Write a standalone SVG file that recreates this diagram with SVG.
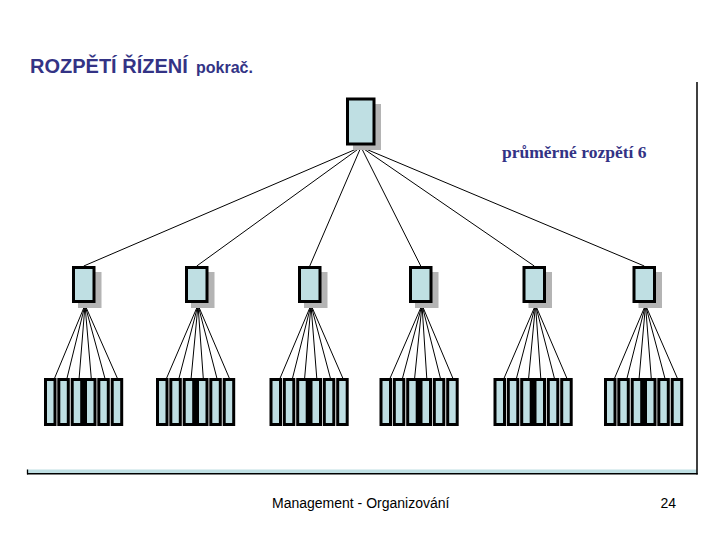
<svg xmlns="http://www.w3.org/2000/svg" width="720" height="540" viewBox="0 0 720 540">
<defs>
<style>
.title{font-family:"Liberation Sans",Arial,sans-serif;font-weight:bold;fill:#333385}
.note{font-family:"Liberation Serif","Times New Roman",serif;font-weight:bold;fill:#333385;font-size:17.5px}
.foot{font-family:"Liberation Sans",Arial,sans-serif;font-size:14px;fill:#000}
.box{fill:#BFDFE3;stroke:#000;stroke-width:3}
.shadow{fill:#B4B4B4}
.leaf{fill:#BFDFE3;stroke:#000;stroke-width:3}
.conn line{stroke:#000;stroke-width:1}
</style>
</defs>
<rect width="720" height="540" fill="#fff"/>

<!-- frame -->
<g id="frame">
<rect x="27" y="469.5" width="670" height="3.5" fill="#BFDFE3"/>
<line x1="27" y1="473.7" x2="697.7" y2="473.7" stroke="#000" stroke-width="1.5"/>
<line x1="27.5" y1="469.5" x2="27.5" y2="474.4" stroke="#000" stroke-width="1.3"/>
<line x1="697" y1="82" x2="697" y2="474.4" stroke="#000" stroke-width="1.5"/>
</g>

<text class="title" x="30" y="73" font-size="20">ROZPĚTÍ ŘÍZENÍ</text>
<text class="title" x="196" y="73" font-size="16">pokrač.</text>
<text class="note" x="502" y="158">průměrné rozpětí 6</text>
<text class="foot" x="272" y="508">Management - Organizování</text>
<text class="foot" x="676" y="508" text-anchor="end">24</text>

<g id="connectors" class="conn">
<line x1="361" y1="147" x2="83.75" y2="266"/>
<line x1="361" y1="147" x2="196.75" y2="266"/>
<line x1="361" y1="147" x2="309.75" y2="266"/>
<line x1="361" y1="147" x2="420.75" y2="266"/>
<line x1="361" y1="147" x2="534.25" y2="266"/>
<line x1="361" y1="147" x2="644.25" y2="266"/>

<line x1="85" y1="305" x2="54.65" y2="378"/>
<line x1="85" y1="305" x2="67.05" y2="378"/>
<line x1="85" y1="305" x2="79.15" y2="378"/>
<line x1="85" y1="305" x2="91.25" y2="378"/>
<line x1="85" y1="305" x2="104.85" y2="378"/>
<line x1="85" y1="305" x2="117.25" y2="378"/>

<line x1="198" y1="305" x2="166.65" y2="378"/>
<line x1="198" y1="305" x2="179.05" y2="378"/>
<line x1="198" y1="305" x2="191.15" y2="378"/>
<line x1="198" y1="305" x2="203.25" y2="378"/>
<line x1="198" y1="305" x2="216.85" y2="378"/>
<line x1="198" y1="305" x2="229.25" y2="378"/>

<line x1="311" y1="305" x2="280.15" y2="378"/>
<line x1="311" y1="305" x2="292.55" y2="378"/>
<line x1="311" y1="305" x2="304.65" y2="378"/>
<line x1="311" y1="305" x2="316.75" y2="378"/>
<line x1="311" y1="305" x2="330.35" y2="378"/>
<line x1="311" y1="305" x2="342.75" y2="378"/>

<line x1="422" y1="305" x2="390.15" y2="378"/>
<line x1="422" y1="305" x2="402.55" y2="378"/>
<line x1="422" y1="305" x2="414.65" y2="378"/>
<line x1="422" y1="305" x2="426.75" y2="378"/>
<line x1="422" y1="305" x2="440.35" y2="378"/>
<line x1="422" y1="305" x2="452.75" y2="378"/>

<line x1="535.5" y1="305" x2="504.15" y2="378"/>
<line x1="535.5" y1="305" x2="516.55" y2="378"/>
<line x1="535.5" y1="305" x2="528.65" y2="378"/>
<line x1="535.5" y1="305" x2="540.75" y2="378"/>
<line x1="535.5" y1="305" x2="554.35" y2="378"/>
<line x1="535.5" y1="305" x2="566.75" y2="378"/>

<line x1="645.5" y1="305" x2="614.65" y2="378"/>
<line x1="645.5" y1="305" x2="627.05" y2="378"/>
<line x1="645.5" y1="305" x2="639.15" y2="378"/>
<line x1="645.5" y1="305" x2="651.25" y2="378"/>
<line x1="645.5" y1="305" x2="664.85" y2="378"/>
<line x1="645.5" y1="305" x2="677.25" y2="378"/>
</g>

<!-- top node -->
<g id="top">
<rect class="shadow" x="353" y="104" width="28" height="46"/>
<rect class="box" x="347.5" y="99" width="26.5" height="45"/>
</g>

<!-- middle nodes -->
<g id="m1"><rect class="shadow" x="78" y="272" width="23.5" height="36"/><rect class="box" x="73.5" y="267.5" width="20.5" height="34"/></g>
<g id="m2"><rect class="shadow" x="191" y="272" width="23.5" height="36"/><rect class="box" x="186.5" y="267.5" width="20.5" height="34"/></g>
<g id="m3"><rect class="shadow" x="304" y="272" width="23.5" height="36"/><rect class="box" x="299.5" y="267.5" width="20.5" height="34"/></g>
<g id="m4"><rect class="shadow" x="415" y="272" width="23.5" height="36"/><rect class="box" x="410.5" y="267.5" width="20.5" height="34"/></g>
<g id="m5"><rect class="shadow" x="528.5" y="272" width="23.5" height="36"/><rect class="box" x="524" y="267.5" width="20.5" height="34"/></g>
<g id="m6"><rect class="shadow" x="638.5" y="272" width="23.5" height="36"/><rect class="box" x="634" y="267.5" width="20.5" height="34"/></g>

<!-- fillers between leaf 3 and 4 -->
<g id="fillers" fill="#000">
<rect x="81.7" y="378" width="4" height="48"/>
<rect x="193.7" y="378" width="4" height="48"/>
<rect x="307.2" y="378" width="4" height="48"/>
<rect x="417.2" y="378" width="4" height="48"/>
<rect x="531.2" y="378" width="4" height="48"/>
<rect x="641.7" y="378" width="4" height="48"/>
</g>

<!-- leaves -->
<g id="l1a"><rect class="leaf" x="45.5" y="379.5" width="9.5" height="45"/></g>
<g id="l1b"><rect class="leaf" x="58.8" y="379.5" width="9.5" height="45"/></g>
<g id="l1c"><rect class="leaf" x="72.2" y="379.5" width="9.5" height="45"/></g>
<g id="l1d"><rect class="leaf" x="85.5" y="379.5" width="9.5" height="45"/></g>
<g id="l1e"><rect class="leaf" x="98.8" y="379.5" width="9.5" height="45"/></g>
<g id="l1f"><rect class="leaf" x="112.2" y="379.5" width="9.5" height="45"/></g>

<g id="l2a"><rect class="leaf" x="157.5" y="379.5" width="9.5" height="45"/></g>
<g id="l2b"><rect class="leaf" x="170.8" y="379.5" width="9.5" height="45"/></g>
<g id="l2c"><rect class="leaf" x="184.2" y="379.5" width="9.5" height="45"/></g>
<g id="l2d"><rect class="leaf" x="197.5" y="379.5" width="9.5" height="45"/></g>
<g id="l2e"><rect class="leaf" x="210.8" y="379.5" width="9.5" height="45"/></g>
<g id="l2f"><rect class="leaf" x="224.2" y="379.5" width="9.5" height="45"/></g>

<g id="l3a"><rect class="leaf" x="271" y="379.5" width="9.5" height="45"/></g>
<g id="l3b"><rect class="leaf" x="284.3" y="379.5" width="9.5" height="45"/></g>
<g id="l3c"><rect class="leaf" x="297.7" y="379.5" width="9.5" height="45"/></g>
<g id="l3d"><rect class="leaf" x="311" y="379.5" width="9.5" height="45"/></g>
<g id="l3e"><rect class="leaf" x="324.3" y="379.5" width="9.5" height="45"/></g>
<g id="l3f"><rect class="leaf" x="337.7" y="379.5" width="9.5" height="45"/></g>

<g id="l4a"><rect class="leaf" x="381" y="379.5" width="9.5" height="45"/></g>
<g id="l4b"><rect class="leaf" x="394.3" y="379.5" width="9.5" height="45"/></g>
<g id="l4c"><rect class="leaf" x="407.7" y="379.5" width="9.5" height="45"/></g>
<g id="l4d"><rect class="leaf" x="421" y="379.5" width="9.5" height="45"/></g>
<g id="l4e"><rect class="leaf" x="434.3" y="379.5" width="9.5" height="45"/></g>
<g id="l4f"><rect class="leaf" x="447.7" y="379.5" width="9.5" height="45"/></g>

<g id="l5a"><rect class="leaf" x="495" y="379.5" width="9.5" height="45"/></g>
<g id="l5b"><rect class="leaf" x="508.3" y="379.5" width="9.5" height="45"/></g>
<g id="l5c"><rect class="leaf" x="521.7" y="379.5" width="9.5" height="45"/></g>
<g id="l5d"><rect class="leaf" x="535" y="379.5" width="9.5" height="45"/></g>
<g id="l5e"><rect class="leaf" x="548.3" y="379.5" width="9.5" height="45"/></g>
<g id="l5f"><rect class="leaf" x="561.7" y="379.5" width="9.5" height="45"/></g>

<g id="l6a"><rect class="leaf" x="605.5" y="379.5" width="9.5" height="45"/></g>
<g id="l6b"><rect class="leaf" x="618.8" y="379.5" width="9.5" height="45"/></g>
<g id="l6c"><rect class="leaf" x="632.2" y="379.5" width="9.5" height="45"/></g>
<g id="l6d"><rect class="leaf" x="645.5" y="379.5" width="9.5" height="45"/></g>
<g id="l6e"><rect class="leaf" x="658.8" y="379.5" width="9.5" height="45"/></g>
<g id="l6f"><rect class="leaf" x="672.2" y="379.5" width="9.5" height="45"/></g>
</svg>
